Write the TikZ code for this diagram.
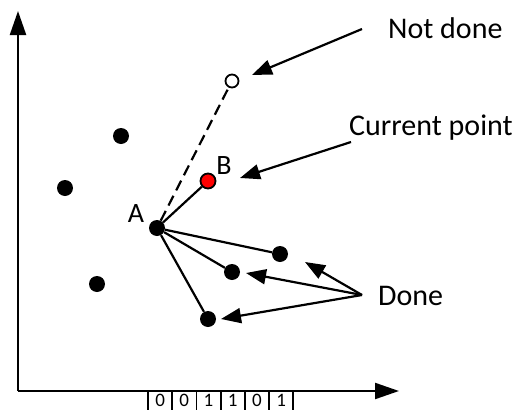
\documentclass[tikz,border=0pt]{standalone}
\usepackage{fontspec}
\setmainfont{Carlito}
\usetikzlibrary{arrows.meta}

\tikzset{
	dot/.style={circle, fill=black, inner sep=0pt, minimum size=16pt},
	opendot/.style={circle, draw=black, fill=white, line width=1.8pt, inner sep=0pt, minimum size=13pt},
	curdot/.style={circle, draw=black, fill=red, line width=1.8pt, inner sep=0pt, minimum size=15pt},
	link/.style={line width=2.2pt},
	pointer/.style={line width=2.2pt, -{Triangle[length=20pt, width=15pt]}},
	axis/.style={line width=2.2pt, -{Triangle[length=24pt, width=16pt]}},
	cell/.style={draw, line width=1.8pt, minimum width=24.2pt, minimum height=30pt, inner sep=0pt},
	caption/.style={anchor=west, inner sep=0pt, font=\fontsize{30}{36}\selectfont},
	ptlabel/.style={inner sep=0pt, font=\fontsize{28}{33}\selectfont}
}

\begin{document}
\begin{tikzpicture}[x=1pt, y=-1pt]
	\useasboundingbox (0,0) rectangle (523,410);
	\clip (0,0) rectangle (523,410);
	% axes
	\coordinate (origin) at (18,391);
	\coordinate (ytop) at (18,11);
	\coordinate (xend) at (399,391);
	% bit cells under the x axis
	\foreach \b [count=\i] in {0,0,1,1,0,1} {
		\node[cell] (bit\i) at ({148+24.2*(\i-0.5)},406) {};
		\node[font=\fontsize{19}{23}\selectfont, inner sep=0pt] (digit\i) at ({148+24.2*(\i-0.5)},400.5) {\b};
	}
	\draw[axis] (origin) -- (ytop);
	\draw[axis] (origin) -- (xend);
	% points
	\node[dot] (a) at (157,228) {};
	\node[curdot] (b) at (208,181) {};
	\node[opendot] (nd) at (232,81) {};
	\node[dot] (p1) at (121,136) {};
	\node[dot] (p2) at (65,188) {};
	\node[dot] (p3) at (97,284) {};
	\node[dot] (d1) at (280,254) {};
	\node[dot] (d2) at (232,272) {};
	\node[dot] (d3) at (208,319) {};
	\node[ptlabel] (alabel) at (136,214) {A};
	\node[ptlabel] (blabel) at (224,166) {B};
	% edges from A
	\draw[link, dash pattern=on 11pt off 6pt] (a) -- (nd);
	\draw[link] (a) -- (b);
	\draw[link] (a) -- (d1);
	\draw[link] (a) -- (d2);
	\draw[link] (a) -- (d3);
	% captions
	\node[caption] (notdone) at (388,28) {Not done};
	\node[caption] (current) at (349,128) {Current point};
	\node[caption] (done) at (378,296) {Done};
	\coordinate (ndfrom) at (362,29);
	\coordinate (ndtip) at (252,75);
	\coordinate (curfrom) at (351,142);
	\coordinate (curtip) at (240,178);
	\coordinate (donefrom) at (362,295);
	\coordinate (dtip1) at (305,262);
	\coordinate (dtip2) at (246,273);
	\coordinate (dtip3) at (221,319);
	\draw[pointer] (ndfrom) -- (ndtip);
	\draw[pointer] (curfrom) -- (curtip);
	\draw[pointer] (donefrom) -- (dtip1);
	\draw[pointer] (donefrom) -- (dtip2);
	\draw[pointer] (donefrom) -- (dtip3);
\end{tikzpicture}
\end{document}
